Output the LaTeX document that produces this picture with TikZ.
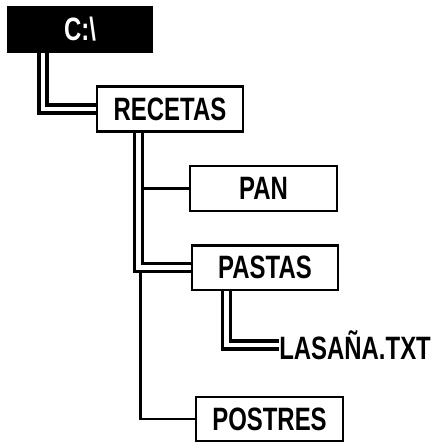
\documentclass[tikz,border=0pt]{standalone}
\usepackage{fontspec}
\newfontfamily\dirfont{Liberation Sans}[UprightFont={* Bold}, FakeStretch=0.74]
\usetikzlibrary{positioning}

\begin{document}
\begin{tikzpicture}[x=0.025cm, y=-0.025cm,
  every node/.style={font=\dirfont\fontsize{23}{26}\selectfont},
  dirbox/.style={draw, line width=1.4pt, fill=white, minimum width=3.65cm, minimum height=1.12cm, inner sep=0pt},
  openbox/.style={dirbox, line width=2pt},
  rootbox/.style={dirbox, fill=black, text=white, minimum width=3.6cm, minimum height=1.13cm},
  branch/.style={line width=1.7pt},
  openpath/.style={line width=2.2pt, double=white, double distance=3.5pt}]
\useasboundingbox (0,0) rectangle (440,443);
% folders
\node[rootbox] (root) at (80,29.5) {C:\textbackslash};
\node[openbox] (recetas) at (170,109) {RECETAS};
\node[dirbox] (pan) at (263.5,188.5) {PAN};
\node[openbox] (pastas) at (265,267.5) {PASTAS};
\node[anchor=west, inner sep=0pt] (lasana) at (279,345) {LASAÑA.TXT};
\node[dirbox] (postres) at (269.5,419) {POSTRES};
% plain branches
\draw[branch] (recetas.south west) ++(45,0) |- (pan.west);
\draw[branch] (recetas.south west) ++(45,0) |- (postres.west);
% open path
\draw[openpath] (root.south west) ++(36,0) |- (recetas.west);
\draw[openpath] (recetas.south west) ++(43,0) |- (pastas.west);
\draw[openpath] (pastas.south west) ++(36,0) |- (lasana.west);
\end{tikzpicture}
\end{document}
